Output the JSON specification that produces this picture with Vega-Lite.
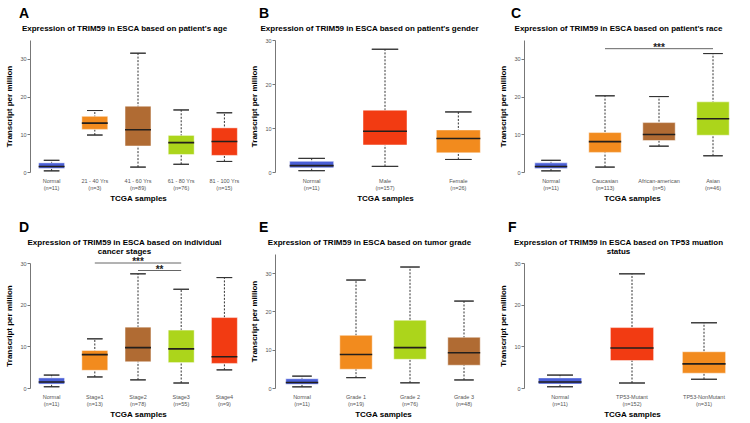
{
  "$schema": "https://vega.github.io/schema/vega-lite/v6.json",
  "padding": {"left": 5, "top": 7, "right": 0, "bottom": 0},
  "background": "white",
  "spacing": 4,
  "resolve": {"scale": {"color": "independent"}},
  "datasets": {
    "age": [
      {"cat": "Normal|(n=11)", "lo": 0.3, "q1": 0.95, "med": 1.45, "q3": 2.42, "hi": 3.1},
      {"cat": "21 - 40 Yrs|(n=3)", "lo": 9.8, "q1": 11.3, "med": 12.95, "q3": 14.75, "hi": 16.3},
      {"cat": "41 - 60 Yrs|(n=89)", "lo": 1.3, "q1": 6.9, "med": 11.2, "q3": 17.45, "hi": 31.5},
      {"cat": "61 - 80 Yrs|(n=76)", "lo": 2.05, "q1": 4.65, "med": 7.8, "q3": 9.7, "hi": 16.45},
      {"cat": "81 - 100 Yrs|(n=15)", "lo": 2.8, "q1": 4.4, "med": 8.1, "q3": 11.7, "hi": 15.7}
    ],
    "gender": [
      {"cat": "Normal|(n=11)", "lo": 0.3, "q1": 0.95, "med": 1.45, "q3": 2.42, "hi": 3.1},
      {"cat": "Male|(n=157)", "lo": 1.28, "q1": 6.15, "med": 9.25, "q3": 14.05, "hi": 27.9},
      {"cat": "Female|(n=26)", "lo": 2.85, "q1": 4.35, "med": 7.6, "q3": 9.55, "hi": 13.65}
    ],
    "race": [
      {"cat": "Normal|(n=11)", "lo": 0.3, "q1": 0.95, "med": 1.45, "q3": 2.42, "hi": 3.1},
      {"cat": "Caucasian|(n=113)", "lo": 1.3, "q1": 5.2, "med": 8.05, "q3": 10.45, "hi": 20.2},
      {"cat": "African-american|(n=5)", "lo": 6.85, "q1": 8.35, "med": 9.95, "q3": 13.1, "hi": 20.0},
      {"cat": "Asian|(n=46)", "lo": 4.3, "q1": 9.75, "med": 14.1, "q3": 18.6, "hi": 31.4}
    ],
    "raceSig": [
      {"from": "Caucasian|(n=113)", "to": "Asian|(n=46)", "mid": "African-american|(n=5)", "y": 32.7, "mark": "***"}
    ],
    "stage": [
      {"cat": "Normal|(n=11)", "lo": 0.3, "q1": 0.95, "med": 1.45, "q3": 2.42, "hi": 3.1},
      {"cat": "Stage1|(n=13)", "lo": 2.65, "q1": 4.25, "med": 8.0, "q3": 9.0, "hi": 11.8},
      {"cat": "Stage2|(n=78)", "lo": 1.95, "q1": 6.3, "med": 9.7, "q3": 14.6, "hi": 27.4},
      {"cat": "Stage3|(n=55)", "lo": 1.2, "q1": 6.1, "med": 9.4, "q3": 13.9, "hi": 23.7},
      {"cat": "Stage4|(n=9)", "lo": 4.35, "q1": 5.9, "med": 7.5, "q3": 16.9, "hi": 26.5}
    ],
    "stageSig": [
      {"from": "Stage1|(n=13)", "to": "Stage3|(n=55)", "mid": "Stage2|(n=78)", "y": 30, "mark": "***"},
      {"from": "Stage2|(n=78)", "to": "Stage3|(n=55)", "mid": "Stage2|(n=78)", "y": 28.2, "mark": "**"}
    ],
    "grade": [
      {"cat": "Normal|(n=11)", "lo": 0.3, "q1": 0.95, "med": 1.45, "q3": 2.42, "hi": 3.1},
      {"cat": "Grade 1|(n=19)", "lo": 2.7, "q1": 4.9, "med": 8.75, "q3": 13.75, "hi": 28.2},
      {"cat": "Grade 2|(n=76)", "lo": 1.35, "q1": 7.5, "med": 10.55, "q3": 17.7, "hi": 31.6},
      {"cat": "Grade 3|(n=48)", "lo": 2.1, "q1": 5.95, "med": 9.2, "q3": 13.25, "hi": 22.7}
    ],
    "tp53": [
      {"cat": "Normal|(n=11)", "lo": 0.3, "q1": 0.95, "med": 1.45, "q3": 2.42, "hi": 3.1},
      {"cat": "TP53-Mutant|(n=152)", "lo": 1.2, "q1": 6.6, "med": 9.6, "q3": 14.5, "hi": 27.4},
      {"cat": "TP53-NonMutant|(n=31)", "lo": 2.1, "q1": 3.55, "med": 5.8, "q3": 8.7, "hi": 15.65}
    ]
  },
  "hconcat": [
    {
      "spacing": 18,
      "resolve": {"scale": {"color": "independent"}},
      "vconcat": [
        {
          "title": {"text": "A", "dx": 14},
          "width": 216, "height": 132,
          "data": {"name": "age"},
          "resolve": {"axis": {"x": "independent"}},
          "encoding": {"x": {"field": "cat", "type": "nominal", "sort": null, "scale": {"padding": 0}, "axis": null}},
          "layer": [
            {"mark": {"type": "rule", "strokeDash": [2, 1.5], "color": "#333"},
             "encoding": {"x": {"field": "cat", "type": "nominal", "sort": null, "scale": {"padding": 0}, "axis": {"orient": "bottom"}, "title": "TCGA samples"},
               "y": {"field": "lo", "type": "quantitative", "title": "Transcript per million", "scale": {"domain": [0, 35]}, "axis": {"values": [0, 5, 10, 15, 20, 25, 30, 35]}}, "y2": {"field": "hi"}}},
            {"mark": {"type": "bar", "width": {"band": 0.36}, "stroke": "#333", "strokeWidth": 1},
             "encoding": {"y": {"field": "hi", "type": "quantitative", "title": "Transcript per million"}, "y2": {"field": "hi"}}},
            {"mark": {"type": "bar", "width": {"band": 0.36}, "stroke": "#333", "strokeWidth": 1},
             "encoding": {"y": {"field": "lo", "type": "quantitative", "title": "Transcript per million"}, "y2": {"field": "lo"}}},
            {"mark": {"type": "bar", "width": {"band": 0.6}, "stroke": "#ffffff", "strokeOpacity": 0.45, "strokeWidth": 1},
             "encoding": {"y": {"field": "q1", "type": "quantitative", "title": "Transcript per million"}, "y2": {"field": "q3"},
               "color": {"field": "cat", "type": "nominal", "legend": null, "scale": {"domain": ["Normal|(n=11)", "21 - 40 Yrs|(n=3)", "41 - 60 Yrs|(n=89)", "61 - 80 Yrs|(n=76)", "81 - 100 Yrs|(n=15)"], "range": ["#4a5fd6", "#f28b1e", "#b06b33", "#acd51b", "#f23b12"]}}}},
            {"mark": {"type": "bar", "width": {"band": 0.6}, "stroke": "#231f1c", "strokeWidth": 1.6},
             "encoding": {"x": {"field": "cat", "type": "nominal", "sort": null, "scale": {"padding": 0}, "axis": {"orient": "top"}, "title": "Expression of TRIM59 in ESCA based on patient's age"},
               "y": {"field": "med", "type": "quantitative", "title": "Transcript per million"}, "y2": {"field": "med"}}}
          ]
        },
        {
          "title": {"text": "D", "dx": 14},
          "width": 216, "height": 125,
          "resolve": {"axis": {"x": "independent"}},
          "encoding": {"x": {"field": "cat", "type": "nominal", "sort": null, "scale": {"padding": 0, "domain": ["Normal|(n=11)", "Stage1|(n=13)", "Stage2|(n=78)", "Stage3|(n=55)", "Stage4|(n=9)"]}, "axis": null}},
          "layer": [
            {"data": {"name": "stage"}, "mark": {"type": "rule", "strokeDash": [2, 1.5], "color": "#333"},
             "encoding": {"x": {"field": "cat", "type": "nominal", "sort": null, "scale": {"padding": 0, "domain": ["Normal|(n=11)", "Stage1|(n=13)", "Stage2|(n=78)", "Stage3|(n=55)", "Stage4|(n=9)"]}, "axis": {"orient": "bottom"}, "title": "TCGA samples"},
               "y": {"field": "lo", "type": "quantitative", "title": "Transcript per million", "scale": {"domain": [0, 30]}, "axis": {"values": [0, 5, 10, 15, 20, 25, 30]}}, "y2": {"field": "hi"}}},
            {"data": {"name": "stage"}, "mark": {"type": "bar", "width": {"band": 0.36}, "stroke": "#333", "strokeWidth": 1},
             "encoding": {"y": {"field": "hi", "type": "quantitative", "title": "Transcript per million"}, "y2": {"field": "hi"}}},
            {"data": {"name": "stage"}, "mark": {"type": "bar", "width": {"band": 0.36}, "stroke": "#333", "strokeWidth": 1},
             "encoding": {"y": {"field": "lo", "type": "quantitative", "title": "Transcript per million"}, "y2": {"field": "lo"}}},
            {"data": {"name": "stage"}, "mark": {"type": "bar", "width": {"band": 0.6}, "stroke": "#ffffff", "strokeOpacity": 0.45, "strokeWidth": 1},
             "encoding": {"y": {"field": "q1", "type": "quantitative", "title": "Transcript per million"}, "y2": {"field": "q3"},
               "color": {"field": "cat", "type": "nominal", "legend": null, "scale": {"domain": ["Normal|(n=11)", "Stage1|(n=13)", "Stage2|(n=78)", "Stage3|(n=55)", "Stage4|(n=9)"], "range": ["#4a5fd6", "#f28b1e", "#b06b33", "#acd51b", "#f23b12"]}}}},
            {"data": {"name": "stage"}, "mark": {"type": "bar", "width": {"band": 0.6}, "stroke": "#231f1c", "strokeWidth": 1.6},
             "encoding": {"x": {"field": "cat", "type": "nominal", "sort": null, "scale": {"padding": 0, "domain": ["Normal|(n=11)", "Stage1|(n=13)", "Stage2|(n=78)", "Stage3|(n=55)", "Stage4|(n=9)"]}, "axis": {"orient": "top", "titleY": -17}, "title": ["Expression of TRIM59 in ESCA based on individual", "cancer stages"]},
               "y": {"field": "med", "type": "quantitative", "title": "Transcript per million"}, "y2": {"field": "med"}}},
            {"data": {"name": "stageSig"}, "mark": {"type": "rule", "color": "#666", "strokeWidth": 1},
             "encoding": {"x": {"field": "from", "type": "nominal", "axis": null}, "x2": {"field": "to"}, "y": {"field": "y", "type": "quantitative", "title": "Transcript per million"}}},
            {"data": {"name": "stageSig"}, "transform": [{"filter": "datum.mark == '***'"}], "mark": {"type": "text", "fontSize": 10, "fontWeight": "bold", "baseline": "alphabetic", "dy": 2, "color": "#222"},
             "encoding": {"x": {"field": "mid", "type": "nominal", "axis": null}, "y": {"field": "y", "type": "quantitative", "title": "Transcript per million"}, "text": {"field": "mark"}}},
            {"data": {"name": "stageSig"}, "transform": [{"filter": "datum.mark == '**'"}], "mark": {"type": "text", "fontSize": 10, "fontWeight": "bold", "baseline": "alphabetic", "dy": 2, "color": "#222"},
             "encoding": {"x": {"field": "mid", "type": "nominal", "axis": null, "bandPosition": 1}, "y": {"field": "y", "type": "quantitative", "title": "Transcript per million"}, "text": {"field": "mark"}}}
          ]
        }
      ]
    },
    {
      "spacing": 18,
      "resolve": {"scale": {"color": "independent"}},
      "vconcat": [
        {
          "title": {"text": "B", "dx": 9},
          "width": 220, "height": 132,
          "data": {"name": "gender"},
          "resolve": {"axis": {"x": "independent"}},
          "encoding": {"x": {"field": "cat", "type": "nominal", "sort": null, "scale": {"padding": 0}, "axis": null}},
          "layer": [
            {"mark": {"type": "rule", "strokeDash": [2, 1.5], "color": "#333"},
             "encoding": {"x": {"field": "cat", "type": "nominal", "sort": null, "scale": {"padding": 0}, "axis": {"orient": "bottom"}, "title": "TCGA samples"},
               "y": {"field": "lo", "type": "quantitative", "title": "Transcript per million", "scale": {"domain": [0, 30]}, "axis": {"values": [0, 5, 10, 15, 20, 25, 30]}}, "y2": {"field": "hi"}}},
            {"mark": {"type": "bar", "width": {"band": 0.36}, "stroke": "#333", "strokeWidth": 1},
             "encoding": {"y": {"field": "hi", "type": "quantitative", "title": "Transcript per million"}, "y2": {"field": "hi"}}},
            {"mark": {"type": "bar", "width": {"band": 0.36}, "stroke": "#333", "strokeWidth": 1},
             "encoding": {"y": {"field": "lo", "type": "quantitative", "title": "Transcript per million"}, "y2": {"field": "lo"}}},
            {"mark": {"type": "bar", "width": {"band": 0.6}, "stroke": "#ffffff", "strokeOpacity": 0.45, "strokeWidth": 1},
             "encoding": {"y": {"field": "q1", "type": "quantitative", "title": "Transcript per million"}, "y2": {"field": "q3"},
               "color": {"field": "cat", "type": "nominal", "legend": null, "scale": {"domain": ["Normal|(n=11)", "Male|(n=157)", "Female|(n=26)"], "range": ["#4a5fd6", "#f23b12", "#f28b1e"]}}}},
            {"mark": {"type": "bar", "width": {"band": 0.6}, "stroke": "#231f1c", "strokeWidth": 1.6},
             "encoding": {"x": {"field": "cat", "type": "nominal", "sort": null, "scale": {"padding": 0}, "axis": {"orient": "top"}, "title": "Expression of TRIM59 in ESCA based on patient's gender"},
               "y": {"field": "med", "type": "quantitative", "title": "Transcript per million"}, "y2": {"field": "med"}}}
          ]
        },
        {
          "title": {"text": "E", "dx": 9},
          "width": 216, "height": 134,
          "data": {"name": "grade"},
          "resolve": {"axis": {"x": "independent"}},
          "encoding": {"x": {"field": "cat", "type": "nominal", "sort": null, "scale": {"padding": 0}, "axis": null}},
          "layer": [
            {"mark": {"type": "rule", "strokeDash": [2, 1.5], "color": "#333"},
             "encoding": {"x": {"field": "cat", "type": "nominal", "sort": null, "scale": {"padding": 0}, "axis": {"orient": "bottom"}, "title": "TCGA samples"},
               "y": {"field": "lo", "type": "quantitative", "title": "Transcript per million", "scale": {"domain": [0, 35]}, "axis": {"values": [0, 5, 10, 15, 20, 25, 30, 35]}}, "y2": {"field": "hi"}}},
            {"mark": {"type": "bar", "width": {"band": 0.36}, "stroke": "#333", "strokeWidth": 1},
             "encoding": {"y": {"field": "hi", "type": "quantitative", "title": "Transcript per million"}, "y2": {"field": "hi"}}},
            {"mark": {"type": "bar", "width": {"band": 0.36}, "stroke": "#333", "strokeWidth": 1},
             "encoding": {"y": {"field": "lo", "type": "quantitative", "title": "Transcript per million"}, "y2": {"field": "lo"}}},
            {"mark": {"type": "bar", "width": {"band": 0.6}, "stroke": "#ffffff", "strokeOpacity": 0.45, "strokeWidth": 1},
             "encoding": {"y": {"field": "q1", "type": "quantitative", "title": "Transcript per million"}, "y2": {"field": "q3"},
               "color": {"field": "cat", "type": "nominal", "legend": null, "scale": {"domain": ["Normal|(n=11)", "Grade 1|(n=19)", "Grade 2|(n=76)", "Grade 3|(n=48)"], "range": ["#4a5fd6", "#f28b1e", "#acd51b", "#b06b33"]}}}},
            {"mark": {"type": "bar", "width": {"band": 0.6}, "stroke": "#231f1c", "strokeWidth": 1.6},
             "encoding": {"x": {"field": "cat", "type": "nominal", "sort": null, "scale": {"padding": 0}, "axis": {"orient": "top"}, "title": "Expression of TRIM59 in ESCA based on tumor grade"},
               "y": {"field": "med", "type": "quantitative", "title": "Transcript per million"}, "y2": {"field": "med"}}}
          ]
        }
      ]
    },
    {
      "spacing": 18,
      "resolve": {"scale": {"color": "independent"}},
      "vconcat": [
        {
          "title": {"text": "C", "dx": 12},
          "width": 216, "height": 132,
          "resolve": {"axis": {"x": "independent"}},
          "encoding": {"x": {"field": "cat", "type": "nominal", "sort": null, "scale": {"padding": 0, "domain": ["Normal|(n=11)", "Caucasian|(n=113)", "African-american|(n=5)", "Asian|(n=46)"]}, "axis": null}},
          "layer": [
            {"data": {"name": "race"}, "mark": {"type": "rule", "strokeDash": [2, 1.5], "color": "#333"},
             "encoding": {"x": {"field": "cat", "type": "nominal", "sort": null, "scale": {"padding": 0, "domain": ["Normal|(n=11)", "Caucasian|(n=113)", "African-american|(n=5)", "Asian|(n=46)"]}, "axis": {"orient": "bottom"}, "title": "TCGA samples"},
               "y": {"field": "lo", "type": "quantitative", "title": "Transcript per million", "scale": {"domain": [0, 35]}, "axis": {"values": [0, 5, 10, 15, 20, 25, 30, 35]}}, "y2": {"field": "hi"}}},
            {"data": {"name": "race"}, "mark": {"type": "bar", "width": {"band": 0.36}, "stroke": "#333", "strokeWidth": 1},
             "encoding": {"y": {"field": "hi", "type": "quantitative", "title": "Transcript per million"}, "y2": {"field": "hi"}}},
            {"data": {"name": "race"}, "mark": {"type": "bar", "width": {"band": 0.36}, "stroke": "#333", "strokeWidth": 1},
             "encoding": {"y": {"field": "lo", "type": "quantitative", "title": "Transcript per million"}, "y2": {"field": "lo"}}},
            {"data": {"name": "race"}, "mark": {"type": "bar", "width": {"band": 0.6}, "stroke": "#ffffff", "strokeOpacity": 0.45, "strokeWidth": 1},
             "encoding": {"y": {"field": "q1", "type": "quantitative", "title": "Transcript per million"}, "y2": {"field": "q3"},
               "color": {"field": "cat", "type": "nominal", "legend": null, "scale": {"domain": ["Normal|(n=11)", "Caucasian|(n=113)", "African-american|(n=5)", "Asian|(n=46)"], "range": ["#4a5fd6", "#f28b1e", "#b06b33", "#acd51b"]}}}},
            {"data": {"name": "race"}, "mark": {"type": "bar", "width": {"band": 0.6}, "stroke": "#231f1c", "strokeWidth": 1.6},
             "encoding": {"x": {"field": "cat", "type": "nominal", "sort": null, "scale": {"padding": 0, "domain": ["Normal|(n=11)", "Caucasian|(n=113)", "African-american|(n=5)", "Asian|(n=46)"]}, "axis": {"orient": "top"}, "title": "Expression of TRIM59 in ESCA based on patient's race"},
               "y": {"field": "med", "type": "quantitative", "title": "Transcript per million"}, "y2": {"field": "med"}}},
            {"data": {"name": "raceSig"}, "mark": {"type": "rule", "color": "#666", "strokeWidth": 1},
             "encoding": {"x": {"field": "from", "type": "nominal", "axis": null}, "x2": {"field": "to"}, "y": {"field": "y", "type": "quantitative", "title": "Transcript per million"}}},
            {"data": {"name": "raceSig"}, "mark": {"type": "text", "fontSize": 10, "fontWeight": "bold", "baseline": "alphabetic", "dy": 2, "color": "#222"},
             "encoding": {"x": {"field": "mid", "type": "nominal", "axis": null}, "y": {"field": "y", "type": "quantitative", "title": "Transcript per million"}, "text": {"field": "mark"}}}
          ]
        },
        {
          "title": {"text": "F", "dx": 9},
          "width": 216, "height": 125,
          "data": {"name": "tp53"},
          "resolve": {"axis": {"x": "independent"}},
          "encoding": {"x": {"field": "cat", "type": "nominal", "sort": null, "scale": {"padding": 0}, "axis": null}},
          "layer": [
            {"mark": {"type": "rule", "strokeDash": [2, 1.5], "color": "#333"},
             "encoding": {"x": {"field": "cat", "type": "nominal", "sort": null, "scale": {"padding": 0}, "axis": {"orient": "bottom"}, "title": "TCGA samples"},
               "y": {"field": "lo", "type": "quantitative", "title": "Transcript per million", "scale": {"domain": [0, 30]}, "axis": {"values": [0, 5, 10, 15, 20, 25, 30]}}, "y2": {"field": "hi"}}},
            {"mark": {"type": "bar", "width": {"band": 0.36}, "stroke": "#333", "strokeWidth": 1},
             "encoding": {"y": {"field": "hi", "type": "quantitative", "title": "Transcript per million"}, "y2": {"field": "hi"}}},
            {"mark": {"type": "bar", "width": {"band": 0.36}, "stroke": "#333", "strokeWidth": 1},
             "encoding": {"y": {"field": "lo", "type": "quantitative", "title": "Transcript per million"}, "y2": {"field": "lo"}}},
            {"mark": {"type": "bar", "width": {"band": 0.6}, "stroke": "#ffffff", "strokeOpacity": 0.45, "strokeWidth": 1},
             "encoding": {"y": {"field": "q1", "type": "quantitative", "title": "Transcript per million"}, "y2": {"field": "q3"},
               "color": {"field": "cat", "type": "nominal", "legend": null, "scale": {"domain": ["Normal|(n=11)", "TP53-Mutant|(n=152)", "TP53-NonMutant|(n=31)"], "range": ["#4a5fd6", "#f23b12", "#f28b1e"]}}}},
            {"mark": {"type": "bar", "width": {"band": 0.6}, "stroke": "#231f1c", "strokeWidth": 1.6},
             "encoding": {"x": {"field": "cat", "type": "nominal", "sort": null, "scale": {"padding": 0}, "axis": {"orient": "top", "titleY": -17}, "title": ["Expression of TRIM59 in ESCA based on TP53 muation", "status"]},
               "y": {"field": "med", "type": "quantitative", "title": "Transcript per million"}, "y2": {"field": "med"}}}
          ]
        }
      ]
    }
  ],
  "config": {
    "font": "Liberation Sans",
    "view": {"stroke": null},
    "title": {"fontSize": 14, "fontWeight": "bold", "color": "#000", "anchor": "start", "frame": "bounds", "offset": 3},
    "axisX": {"domain": false, "ticks": false, "labelAngle": 0, "labelFontSize": 5.5, "labelColor": "#555", "labelPadding": 6, "labelLineHeight": 7, "labelFlush": false, "labelExpr": "split(datum.label, '|')", "titleFontSize": 8, "titleFontWeight": "bold", "titleColor": "#000", "titlePadding": 4},
    "axisTop": {"labels": false, "titleLineHeight": 9, "titleX": 94, "titleY": -8, "titleBaseline": "bottom", "minExtent": 0, "maxExtent": 0},
    "axisY": {"grid": false, "domainColor": "#777", "tickColor": "#777", "tickSize": 3, "labelFontSize": 5.5, "labelColor": "#555", "labelPadding": 1, "minExtent": 11, "maxExtent": 11, "titleFontSize": 8, "titleFontWeight": "bold", "titleColor": "#000", "titlePadding": 6}
  }
}
